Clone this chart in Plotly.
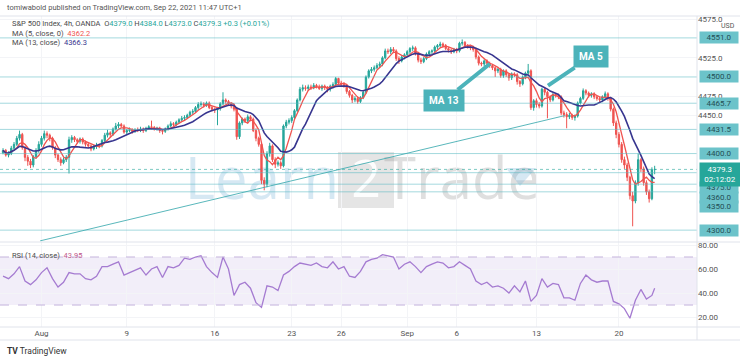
import plotly.graph_objects as go
import pandas as pd

W, H = 740, 361

# ---------------- data (S&P 500 Index, 4h, OANDA) ----------------
opens = [
4401,4404,4398,4400,4407,4412, 4420,4425,4408,4395,4390,4385,
4396,4404,4412,4420,4426,4424, 4420,4408,4398,4392,4388,4392,
4395,4418,4421,4418,4416,4419, 4415,4412,4410,4406,4409,4411,
4410,4417,4424,4427,4425,4432, 4436,4438,4436,4428,4430,4431,
4429,4431,4430,4432,4430,4433, 4435,4434,4432,4433,4430,4429,
4432,4436,4439,4438,4441,4444, 4446,4447,4450,4454,4455,4460,
4464,4465,4463,4466,4460,4458, 4457,4459,4465,4470,4468,4465,
4462,4458,4422,4440,4445,4443, 4448,4445,4430,4420,4412,4365,
4360,4400,4410,4392,4386,4388, 4384,4436,4441,4443,4447,4456,
4470,4484,4486,4485,4487,4486, 4489,4487,4485,4488,4486,4484,
4488,4490,4498,4492,4490,4489, 4481,4476,4470,4472,4468,4473,
4480,4500,4508,4510,4512,4515, 4517,4525,4534,4533,4536,4534,
4524,4521,4526,4529,4533,4537, 4538,4530,4522,4520,4524,4530,
4533,4534,4539,4541,4543,4541, 4537,4535,4533,4536,4534,4544,
4545,4541,4540,4538,4536,4526, 4518,4517,4521,4518,4515,4512,
4508,4510,4502,4508,4503,4499, 4504,4503,4494,4491,4500,4505,
4508,4460,4469,4464,4462,4484, 4480,4474,4470,4477,4476,4474,
4453,4451,4448,4450,4447,4449, 4466,4472,4482,4479,4476,4478,
4474,4472,4470,4474,4478,4472, 4458,4440,4425,4412,4392,4385,
4369,4345,4338,4362,4392,4380, 4362,4350,4341,4379.0]

highs = [
4407,4406,4403,4410,4415,4423, 4430,4427,4410,4398,4393,4398,
4407,4416,4423,4430,4429,4426, 4422,4410,4400,4395,4395,4398,
4422,4424,4423,4420,4421,4421, 4417,4415,4412,4411,4414,4413,
4419,4427,4431,4429,4434,4440, 4441,4440,4438,4432,4434,4433,
4433,4434,4435,4434,4435,4437, 4443,4436,4435,4435,4432,4434,
4438,4442,4441,4443,4446,4449, 4450,4452,4456,4458,4462,4467,
4468,4467,4468,4468,4462,4460, 4461,4467,4480,4472,4470,4467,
4464,4460,4442,4447,4447,4451, 4450,4447,4433,4422,4414,4369,
4403,4414,4412,4395,4391,4390, 4438,4444,4446,4450,4458,4472,
4487,4490,4489,4490,4490,4492, 4491,4490,4490,4490,4488,4490,
4493,4500,4499,4495,4493,4491, 4483,4478,4475,4475,4475,4482,
4502,4510,4513,4515,4518,4520, 4527,4537,4537,4539,4539,4536,
4527,4528,4531,4535,4539,4541, 4540,4532,4525,4526,4532,4535,
4536,4541,4543,4546,4545,4543, 4539,4537,4538,4538,4546,4549,
4547,4543,4542,4540,4538,4528, 4520,4523,4523,4520,4517,4514,
4512,4512,4510,4510,4505,4506, 4506,4505,4496,4502,4507,4517,
4510,4471,4472,4467,4486,4487, 4482,4476,4479,4479,4478,4476,
4456,4454,4453,4452,4451,4468, 4474,4485,4484,4481,4480,4480,
4476,4474,4476,4481,4480,4474, 4460,4443,4428,4415,4396,4388,
4371,4350,4365,4400,4394,4383, 4365,4353,4382,4384.0]

lows = [
4399,4396,4395,4398,4405,4410, 4417,4405,4390,4384,4381,4382,
4393,4401,4409,4417,4420,4416, 4405,4394,4389,4384,4386,4389,
4374,4414,4415,4413,4413,4412, 4409,4407,4403,4404,4406,4407,
4408,4415,4421,4421,4423,4430, 4433,4434,4426,4425,4428,4426,
4427,4428,4428,4427,4428,4431, 4431,4430,4430,4427,4425,4427,
4430,4434,4435,4436,4439,4442, 4443,4445,4448,4451,4453,4457,
4461,4460,4461,4458,4455,4453, 4437,4456,4463,4465,4462,4459,
4455,4418,4419,4437,4440,4441, 4442,4428,4416,4409,4360,4352,
4356,4396,4389,4381,4383,4380, 4382,4433,4438,4440,4445,4454,
4468,4481,4482,4482,4483,4484, 4485,4483,4482,4483,4480,4481,
4485,4488,4490,4487,4486,4478, 4473,4466,4467,4465,4466,4471,
4478,4498,4505,4507,4510,4512, 4514,4523,4530,4530,4531,4521,
4517,4519,4523,4527,4530,4534, 4528,4519,4517,4518,4522,4528,
4530,4532,4536,4539,4538,4535, 4532,4530,4531,4531,4532,4541,
4538,4537,4535,4533,4523,4515, 4514,4514,4516,4512,4509,4500,
4505,4499,4499,4500,4495,4496, 4500,4490,4487,4489,4497,4503,
4457,4456,4460,4459,4460,4476, 4446,4467,4468,4473,4471,4450,
4447,4433,4445,4444,4443,4447, 4464,4470,4476,4473,4473,4471,
4469,4466,4467,4471,4469,4455, 4436,4420,4408,4388,4380,4364,
4340,4305,4335,4358,4376,4358, 4346,4336,4339,4373.0]

closes = [
4404,4398,4400,4407,4412,4420, 4425,4408,4395,4390,4385,4396,
4404,4412,4420,4426,4424,4420, 4408,4398,4392,4388,4392,4395,
4418,4421,4418,4416,4419,4415, 4412,4410,4406,4409,4411,4410,
4417,4424,4427,4425,4432,4436, 4438,4436,4428,4430,4431,4429,
4431,4430,4432,4430,4433,4435, 4434,4432,4433,4430,4429,4432,
4436,4439,4438,4441,4444,4446, 4447,4450,4454,4455,4460,4464,
4465,4463,4466,4460,4458,4457, 4459,4465,4470,4468,4465,4462,
4458,4422,4440,4445,4443,4448, 4445,4430,4420,4412,4365,4360,
4400,4410,4392,4386,4388,4384, 4436,4441,4443,4447,4456,4470,
4484,4486,4485,4487,4486,4489, 4487,4485,4488,4486,4484,4488,
4490,4498,4492,4490,4489,4481, 4476,4470,4472,4468,4473,4480,
4500,4508,4510,4512,4515,4517, 4525,4534,4533,4536,4534,4524,
4521,4526,4529,4533,4537,4538, 4530,4522,4520,4524,4530,4533,
4534,4539,4541,4543,4541,4537, 4535,4533,4536,4534,4544,4545,
4541,4540,4538,4536,4526,4518, 4517,4521,4518,4515,4512,4508,
4510,4502,4508,4503,4499,4504, 4503,4494,4491,4500,4505,4508,
4460,4469,4464,4462,4484,4480, 4474,4470,4477,4476,4474,4453,
4451,4448,4450,4447,4449,4466, 4472,4482,4479,4476,4478,4474,
4472,4470,4474,4478,4472,4458, 4440,4425,4412,4392,4385,4369,
4345,4338,4362,4392,4380,4362, 4350,4341,4379,4379.3]

# RSI(14) read every second candle, plus the last candle
rsi_even = [
54,52,56,62,50,47,51,57,61,52,
45,49,57,56,56,52,51,54,62,62,
64,66,55,57,59,61,55,60,62,53,
62,61,63,69,68,70,71,62,57,53,
70,60,38,47,49,44,32,28,46,45,
42,55,58,62,65,64,63,65,62,61,
66,60,62,54,53,58,66,68,69,72,
71,70,60,64,66,62,57,62,64,66,
65,61,62,66,63,60,50,47,49,45,
46,44,40,46,41,50,33,38,52,45,
48,47,36,36,34,48,55,51,49,50,
50,33,31,27,19,34,43,35,38]
rsi_last = 43.95

tick_idx = [14, 45, 77, 105, 123, 147, 165, 194, 224]
tick_text = ["Aug", "9", "16", "23", "26", "Sep", "6", "13", "20"]

price_ticks = [4450, 4475, 4525, 4575]
rsi_ticks = [20, 40, 60, 80]

hlines = [4551.0, 4500.0, 4465.7, 4431.5, 4400.0, 4375.0, 4360.0, 4350.0, 4300.0]
hline_label_shift = [0, 0, 0, 0, 0, -15, -13, -15, 0]
trend_x = [13.5, 204.4]
trend_y = [4286.0, 4449.6]
last_price = 4379.3

# ---------------- derived ----------------
idx = list(range(len(closes)))
ma5 = pd.Series(closes).rolling(5, min_periods=1).mean()
ma13 = pd.Series(closes).rolling(13, min_periods=1).mean()
rsi_x = [2 * i for i in range(len(rsi_even))] + [len(closes) - 1]
rsi_y = rsi_even + [rsi_last]

def px(xp):
    return xp / W

def py(yp):
    return 1 - yp / H

XR = 697 / W
UP, DN = "#26a69a", "#ef5350"
MA5C, MA13C = "#f0534f", "#37358f"
RSIC = "#a57bd1"
TEAL = "#6cc3ca"
FONT = "Roboto"

fig = go.Figure()
fig.add_trace(go.Candlestick(
    x=idx, open=opens, high=highs, low=lows, close=closes,
    increasing=dict(line=dict(color=UP, width=1), fillcolor=UP),
    decreasing=dict(line=dict(color=DN, width=1), fillcolor=DN),
    whiskerwidth=0, hoverinfo="skip", xaxis="x", yaxis="y"))
fig.add_trace(go.Scatter(x=idx, y=ma5, mode="lines",
                         line=dict(color=MA5C, width=1.3), hoverinfo="skip",
                         xaxis="x", yaxis="y"))
fig.add_trace(go.Scatter(x=idx, y=ma13, mode="lines",
                         line=dict(color=MA13C, width=1.6), hoverinfo="skip",
                         xaxis="x", yaxis="y"))
fig.add_trace(go.Scatter(x=rsi_x, y=rsi_y, mode="lines",
                         line=dict(color=RSIC, width=1.3), hoverinfo="skip",
                         xaxis="x", yaxis="y2"))

shapes = []
# watermark
shapes.append(dict(type="rect", xref="paper", yref="paper", layer="below",
                   x0=px(188), x1=px(336), y0=py(212), y1=py(148),
                   line=dict(width=0), fillcolor="rgba(0,0,0,0)",
                   label=dict(text="Learn", font=dict(family="Open Sans", size=58,
                              color="rgba(120,180,215,0.30)"))))
shapes.append(dict(type="rect", xref="paper", yref="paper", layer="below",
                   x0=px(338), x1=px(394), y0=py(208), y1=py(152),
                   line=dict(width=0), fillcolor="rgba(150,150,150,0.25)",
                   label=dict(text="2", font=dict(family="Open Sans", size=52,
                              color="rgba(255,255,255,0.9)"))))
shapes.append(dict(type="rect", xref="paper", yref="paper", layer="below",
                   x0=px(396), x1=px(528), y0=py(212), y1=py(148),
                   line=dict(width=0), fillcolor="rgba(0,0,0,0)",
                   label=dict(text="Trade", font=dict(family="Open Sans", size=58,
                              color="rgba(140,140,140,0.28)"))))
shapes.append(dict(type="path", xref="paper", yref="paper", layer="below",
                   path=f"M {px(506)},{py(168)} L {px(536)},{py(168)} L {px(520)},{py(186)} Z",
                   line=dict(width=0), fillcolor="rgba(120,180,215,0.30)"))
# RSI band
shapes.append(dict(type="rect", xref="paper", yref="y2", layer="below",
                   x0=0, x1=XR, y0=30, y1=70, line=dict(width=0),
                   fillcolor="rgba(126,87,194,0.10)"))
for lv in (30, 70):
    shapes.append(dict(type="line", xref="paper", yref="y2", x0=0, x1=XR, y0=lv, y1=lv,
                       line=dict(color="#c4b3dc", width=1, dash="dash")))
# horizontal drawn lines
for lv in hlines:
    shapes.append(dict(type="line", xref="paper", yref="y", x0=0, x1=XR, y0=lv, y1=lv,
                       line=dict(color="rgba(90,185,195,0.55)", width=1)))
# last price line
shapes.append(dict(type="line", xref="paper", yref="y", x0=0, x1=XR, y0=last_price, y1=last_price,
                   line=dict(color="rgba(38,166,154,0.6)", width=1, dash="dot")))
# trend line
shapes.append(dict(type="line", xref="x", yref="y", x0=trend_x[0], x1=trend_x[1],
                   y0=trend_y[0], y1=trend_y[1],
                   line=dict(color="rgba(60,170,175,0.85)", width=1)))
# frame lines
BORDER = "#e0e3eb"
for yy in (16, 242, 327, 340):
    shapes.append(dict(type="line", xref="paper", yref="paper", x0=0, x1=1,
                       y0=py(yy), y1=py(yy), line=dict(color=BORDER, width=1)))
shapes.append(dict(type="line", xref="paper", yref="paper", x0=XR, x1=XR,
                   y0=py(340), y1=py(16), line=dict(color=BORDER, width=1)))

ann = []
TXT = "#4a4a4a"
ann.append(dict(xref="paper", yref="paper", x=px(5), y=py(7), xanchor="left", yanchor="middle",
                text="tomiwabold published on TradingView.com, Sep 22, 2021 11:47 UTC+1",
                showarrow=False, font=dict(family=FONT, size=7.5, color="#555")))
g = lambda t: f"<span style='color:{UP}'>{t}</span>"
ann.append(dict(xref="paper", yref="paper", x=px(10), y=py(23), xanchor="left", yanchor="middle",
                text="S&amp;P 500 Index, 4h, OANDA  O" + g("4379.0") + " H" + g("4384.0") +
                     " L" + g("4373.0") + " C" + g("4379.3") + " " + g("+0.3 (+0.01%)"),
                showarrow=False, font=dict(family=FONT, size=7.5, color=TXT)))
ann.append(dict(xref="paper", yref="paper", x=px(10), y=py(33), xanchor="left", yanchor="middle",
                text=f"MA (5, close, 0)  <span style='color:{MA5C}'>4362.2</span>",
                showarrow=False, font=dict(family=FONT, size=7.5, color=TXT)))
ann.append(dict(xref="paper", yref="paper", x=px(10), y=py(43), xanchor="left", yanchor="middle",
                text=f"MA (13, close)  <span style='color:{MA13C}'>4366.3</span>",
                showarrow=False, font=dict(family=FONT, size=7.5, color=TXT)))
ann.append(dict(xref="paper", yref="paper", x=px(10), y=py(255), xanchor="left", yanchor="middle",
                text="RSI (14, close)  <span style='color:#c0568a'>43.95</span>",
                showarrow=False, font=dict(family=FONT, size=7.5, color=TXT)))
ann.append(dict(xref="paper", yref="paper", x=px(5), y=py(351), xanchor="left", yanchor="middle",
                text="<b>TV</b> TradingView", showarrow=False,
                font=dict(family=FONT, size=8.5, color="#333")))
ann.append(dict(xref="paper", yref="paper", x=px(728), y=py(26), xanchor="center", yanchor="middle",
                text="USD", showarrow=False, font=dict(family=FONT, size=7, color="#555")))
# drawn-line price labels
for lv, sh in zip(hlines, hline_label_shift):
    ann.append(dict(xref="paper", yref="y", x=XR, y=lv, xanchor="left", yanchor="middle",
                    xshift=2, yshift=sh, text=f"{lv:.1f}", showarrow=False, width=36,
                    bgcolor=TEAL, borderpad=1,
                    font=dict(family=FONT, size=8, color="#244f55")))
# last price label
ann.append(dict(xref="paper", yref="y", x=XR, y=last_price, xanchor="left", yanchor="middle",
                xshift=2, yshift=-5, text=f"{last_price:.1f}<br>02:12:02", showarrow=False,
                width=36, bgcolor=UP, borderpad=2,
                font=dict(family=FONT, size=8, color="white")))
# callouts
CALL = "#4cb3ba"
ann.append(dict(xref="x", yref="y", x=198.2, y=4488.6, ax=43, ay=-29,
                text="<b>MA 5</b>", showarrow=True, arrowhead=0, arrowwidth=4,
                arrowcolor=CALL, bgcolor=CALL, borderpad=5,
                font=dict(family=FONT, size=10, color="white")))
ann.append(dict(xref="x", yref="y", x=177.1, y=4517.2, ax=-46, ay=37,
                text="<b>MA 13</b>", showarrow=True, arrowhead=0, arrowwidth=4,
                arrowcolor=CALL, bgcolor=CALL, borderpad=5,
                font=dict(family=FONT, size=10, color="white")))

fig.update_layout(
    width=W, height=H, margin=dict(l=0, r=0, t=0, b=0),
    paper_bgcolor="white", plot_bgcolor="rgba(0,0,0,0)",
    showlegend=False, shapes=shapes, annotations=ann,
    xaxis=dict(domain=[0, XR], range=[-1.1, 252.4], anchor="y2",
               tickvals=tick_idx, ticktext=tick_text, ticks="",
               showgrid=True, gridcolor="#f3f4f7", zeroline=False, showline=False,
               tickfont=dict(family=FONT, size=8, color="#555"),
               rangeslider=dict(visible=False), automargin=False),
    yaxis=dict(domain=[py(242), py(16)], range=[4284.5, 4579.6], anchor="x", side="right",
               tickvals=price_ticks, ticktext=[f"{v:.1f}" for v in price_ticks], ticks="",
               showgrid=True, gridcolor="#f3f4f7", zeroline=False, showline=False,
               tickfont=dict(family=FONT, size=8, color="#555"), automargin=False),
    yaxis2=dict(domain=[py(327), py(242)], range=[11.7, 82.5], anchor="x", side="right",
                tickvals=rsi_ticks, ticktext=[f"{v:.2f}" for v in rsi_ticks], ticks="",
                showgrid=True, gridcolor="#f3f4f7", zeroline=False, showline=False,
                tickfont=dict(family=FONT, size=8, color="#555"), automargin=False),
)

fig.write_html("out.html", config={"displayModeBar": False},
               post_script="document.body.style.margin='0';document.body.style.overflow='hidden';")
